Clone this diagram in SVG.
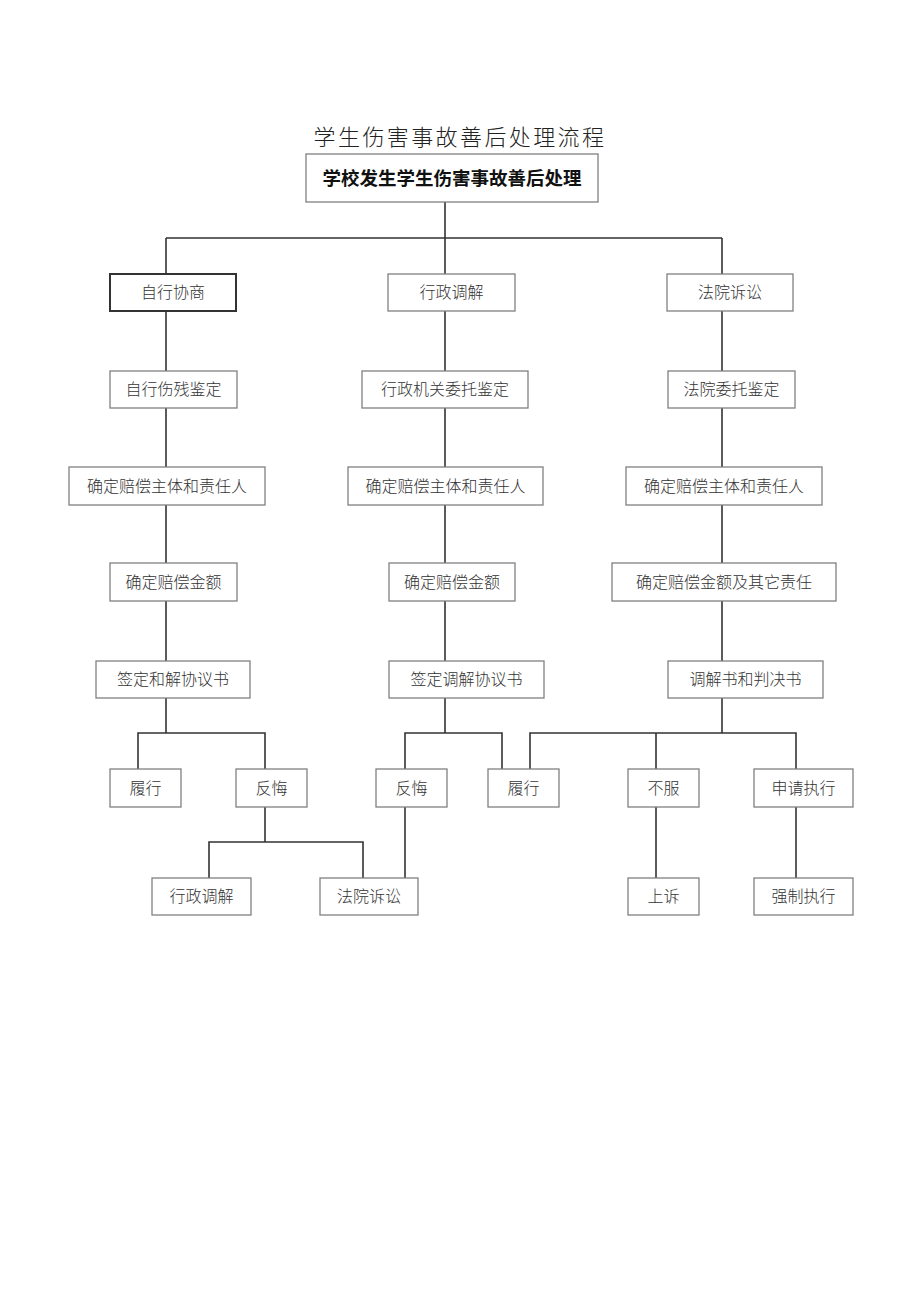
<svg xmlns="http://www.w3.org/2000/svg" width="920" height="1301" viewBox="0 0 920 1301">
<style>
.bx{fill:#fff;stroke:#808080;stroke-width:1.3}
.bxd{fill:#fff;stroke:#333;stroke-width:2}
.t{font-family:"Noto Sans CJK SC","Noto Sans CJK JP",sans-serif;font-size:16px;fill:#333;text-anchor:middle;font-weight:300}
.tb{font-family:"Noto Sans CJK SC","Noto Sans CJK JP",sans-serif;font-size:18.5px;fill:#111;text-anchor:middle;font-weight:700}
.title{font-family:"Noto Sans CJK SC","Noto Sans CJK JP",sans-serif;font-size:22px;fill:#222;text-anchor:middle;font-weight:300;letter-spacing:2.4px}
.ln{fill:none;stroke:#333;stroke-width:1.6}
</style>
<rect width="920" height="1301" fill="#fff"/>
<text class="title" x="460" y="145">学生伤害事故善后处理流程</text>
<g id="connectors">
<path class="ln" d="M445 202V238M166 238H722M166 238V274M445 238V274M722 238V274"/>
<path class="ln" d="M166 311V371M445 311V371M722 311V371"/>
<path class="ln" d="M166 408V467M445 408V467M722 408V467"/>
<path class="ln" d="M166 505V563M445 505V563M722 505V563"/>
<path class="ln" d="M166 601V661M445 601V661M722 601V661"/>
<path class="ln" d="M166 698V733M138 769V733H265V769"/>
<path class="ln" d="M445 698V733M405 769V733H502V769"/>
<path class="ln" d="M722 698V733M530 769V733H796V769M656 733V769"/>
<path class="ln" d="M265 807V842M209 878V842H363V878"/>
<path class="ln" d="M405 807V878"/>
<path class="ln" d="M656 807V878M796 807V878"/>
</g>
<g id="n0"><rect class="bx" x="306" y="154" width="292" height="48"/><text class="tb" x="452" y="184.5">学校发生学生伤害事故善后处理</text></g>
<g id="n1"><rect class="bxd" x="110" y="274" width="126" height="37"/><text class="t" x="173" y="298">自行协商</text></g>
<g id="n2"><rect class="bx" x="388" y="274" width="127" height="37"/><text class="t" x="451.5" y="298">行政调解</text></g>
<g id="n3"><rect class="bx" x="667" y="274" width="126" height="37"/><text class="t" x="730" y="298">法院诉讼</text></g>
<g id="n4"><rect class="bx" x="110" y="371" width="127" height="37"/><text class="t" x="173.5" y="395">自行伤残鉴定</text></g>
<g id="n5"><rect class="bx" x="362" y="371" width="166" height="37"/><text class="t" x="445" y="395">行政机关委托鉴定</text></g>
<g id="n6"><rect class="bx" x="668" y="371" width="127" height="37"/><text class="t" x="731.5" y="395">法院委托鉴定</text></g>
<g id="n7"><rect class="bx" x="69" y="467" width="196" height="38"/><text class="t" x="167" y="491.5">确定赔偿主体和责任人</text></g>
<g id="n8"><rect class="bx" x="348" y="467" width="195" height="38"/><text class="t" x="445.5" y="491.5">确定赔偿主体和责任人</text></g>
<g id="n9"><rect class="bx" x="626" y="467" width="196" height="38"/><text class="t" x="724" y="491.5">确定赔偿主体和责任人</text></g>
<g id="n10"><rect class="bx" x="110" y="563" width="127" height="38"/><text class="t" x="173.5" y="587.5">确定赔偿金额</text></g>
<g id="n11"><rect class="bx" x="389" y="563" width="126" height="38"/><text class="t" x="452" y="587.5">确定赔偿金额</text></g>
<g id="n12"><rect class="bx" x="612" y="563" width="224" height="38"/><text class="t" x="724" y="587.5">确定赔偿金额及其它责任</text></g>
<g id="n13"><rect class="bx" x="96" y="661" width="154" height="37"/><text class="t" x="173" y="685">签定和解协议书</text></g>
<g id="n14"><rect class="bx" x="389" y="661" width="155" height="37"/><text class="t" x="466.5" y="685">签定调解协议书</text></g>
<g id="n15"><rect class="bx" x="668" y="661" width="155" height="37"/><text class="t" x="745.5" y="685">调解书和判决书</text></g>
<g id="n16"><rect class="bx" x="110" y="769" width="71" height="38"/><text class="t" x="145.5" y="793.5">履行</text></g>
<g id="n17"><rect class="bx" x="236" y="769" width="71" height="38"/><text class="t" x="271.5" y="793.5">反悔</text></g>
<g id="n18"><rect class="bx" x="376" y="769" width="71" height="38"/><text class="t" x="411.5" y="793.5">反悔</text></g>
<g id="n19"><rect class="bx" x="488" y="769" width="71" height="38"/><text class="t" x="523.5" y="793.5">履行</text></g>
<g id="n20"><rect class="bx" x="628" y="769" width="71" height="38"/><text class="t" x="663.5" y="793.5">不服</text></g>
<g id="n21"><rect class="bx" x="754" y="769" width="99" height="38"/><text class="t" x="803.5" y="793.5">申请执行</text></g>
<g id="n22"><rect class="bx" x="152" y="878" width="99" height="37"/><text class="t" x="201.5" y="902">行政调解</text></g>
<g id="n23"><rect class="bx" x="320" y="878" width="98" height="37"/><text class="t" x="369" y="902">法院诉讼</text></g>
<g id="n24"><rect class="bx" x="628" y="878" width="71" height="37"/><text class="t" x="663.5" y="902">上诉</text></g>
<g id="n25"><rect class="bx" x="754" y="878" width="99" height="37"/><text class="t" x="803.5" y="902">强制执行</text></g>
</svg>
